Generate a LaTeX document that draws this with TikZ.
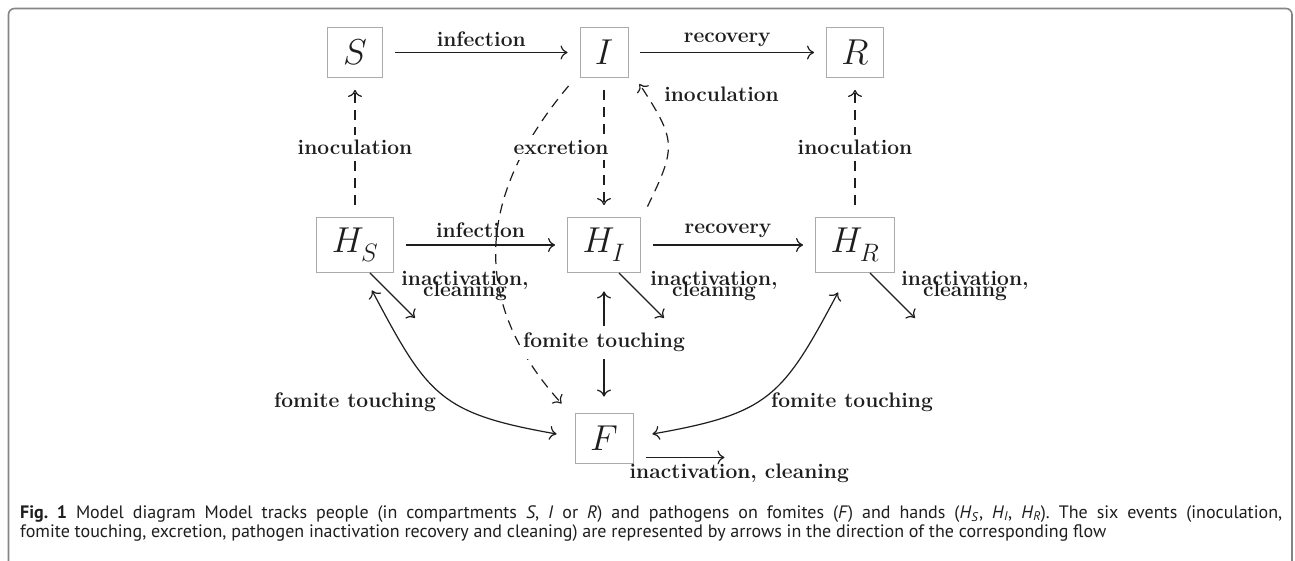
\documentclass[tikz,border=0pt]{standalone}
\usepackage{fontspec}
\newfontfamily\capfont{PT Sans}
\DeclareFontShape{OML}{cmm}{m}{it}{<-8>cmmi7<8->cmmi12}{}
\usetikzlibrary{arrows.meta,calc}
\definecolor{ink}{HTML}{1E1E1E}
\definecolor{boxgray}{HTML}{ABABAB}
\definecolor{framegray}{HTML}{858585}
\frenchspacing
\begin{document}
\begin{tikzpicture}[x=1pt,y=1pt,
  >={Computer Modern Rightarrow[length=7pt,width=14pt]},
  box/.style={draw=boxgray,line width=0.9pt,inner sep=0pt,minimum height=50pt,text=ink,font=\fontsize{36}{40}\selectfont},
  hbox/.style={box,minimum height=55pt},
  flow/.style={->,draw=ink,line width=1.2pt,shorten >=12pt,shorten <=12pt},
  dflow/.style={flow,dash pattern=on 10pt off 7pt},
  free/.style={flow,shorten >=0pt,shorten <=0pt},
  lab/.style={text=ink,inner sep=3pt,font=\fontsize{21}{24}\bfseries\selectfont},
  clean/.style={lab,align=center,inner sep=0pt},
  capt/.style={anchor=base west,inner sep=0pt,text=ink,font=\capfont\fontsize{18}{22}\selectfont},
  ]
\useasboundingbox (0,0) rectangle (1295,560);
\fill[white] (0,0) rectangle (1295,560);
\draw[framegray,line width=1.6pt,rounded corners=6pt] (8.5,-5) -- (8.5,551.5) -- (1292,551.5) -- (1292,-5);

% compartments
\node[box,minimum width=55pt] (S) at (355,507.5) {$S$};
\node[box,minimum width=48pt] (I) at (604,507.5) {$I$};
\node[box,minimum width=57pt] (R) at (855,507.5) {$R$};
\node[hbox,minimum width=77pt] (HS) at (355,315) {$H_S$};
\node[hbox,minimum width=73pt] (HI) at (604,315) {$H_I$};
\node[hbox,minimum width=79pt] (HR) at (855,315) {$H_R$};
\node[box,minimum width=58pt] (F) at (604,122) {$F$};

% excretion to fomites (curved)
\draw[dflow,shorten <=0pt,shorten >=0pt] ($(I.south west)+(-11,-8)$) to[out=230,in=132,looseness=1.13] ($(F.north west)+(-13,9)$);

% labels without fill
\node[clean] (ihs) at ($(HS.south)+(110,-13.5)$) {inactivation,\\[-13pt]cleaning};
\node[clean] (ihi) at ($(HI.south)+(110,-13.5)$) {inactivation,\\[-13pt]cleaning};
\node[clean] (ihr) at ($(HR.south)+(110,-13.5)$) {inactivation,\\[-13pt]cleaning};

% horizontal flows
\draw[flow] (S) -- node[lab,above=2pt] (l1) {infection} (I);
\draw[flow] (I) -- node[lab,above=2pt] (l2) {recovery} (R);
\draw[flow] (HS) -- node[lab,above=4pt] (l3) {infection} (HI);
\draw[flow] (HI) -- node[lab,above=4pt] (l4) {recovery} (HR);

% inoculation / excretion (dashed)
\draw[dflow] (HS) -- node[lab,fill=white,inner ysep=5pt] (l5) {inoculation} (S);
\draw[dflow] (HR) -- node[lab,fill=white,inner ysep=5pt] (l6) {inoculation} (R);
\draw[dflow] (I) -- node[lab,fill=white,inner ysep=5pt,xshift=-43pt] (l7) {excretion} (HI);
\draw[dflow,shorten <=0pt,shorten >=0pt] ($(HI.north east)+(6.5,10.5)$) to[out=64,in=-57,looseness=1.4]
  node[lab,pos=0.95,anchor=west,xshift=16pt,yshift=-2pt] (l8) {inoculation} ($(I.south east)+(11,-6)$);

% fomite touching
\draw[flow,<->,shorten <=18.5pt,shorten >=16pt] (HI) -- node[lab,fill=white,inner ysep=7pt] (l9) {fomite touching} (F);
\draw[free,<->] ($(HS.south)+(17,-17.5)$) to[out=-62,in=170,looseness=1.3] ($(F.west)+(-18,4)$);
\draw[free,<->] ($(F.east)+(19,4)$) to[out=10,in=-118,looseness=1.3] ($(HR.south)+(-17,-19.5)$);
\node[lab] (l10) at (355,158) {fomite touching};
\node[lab] (l11) at (852,158) {fomite touching};

% inactivation, cleaning
\draw[free] ($(HS.south)+(15,0)$) -- ++(45,-45) coordinate (xs);
\draw[free] ($(HI.south)+(15,0)$) -- ++(45,-45) coordinate (xi);
\draw[free] ($(HR.south)+(15,0)$) -- ++(45,-45) coordinate (xr);
\draw[free] ($(F.south east)+(13,6)$) -- ++(78,0) coordinate (xf);
\node[lab,anchor=west,inner sep=0pt] (l12) at ($(F.south east)+(-4,-10)$) {inactivation, cleaning};

% caption
\node[capt] (cap1) at (20,42) {\makebox[1262pt][s]{\textbf{Fig.~1} Model diagram Model tracks people (in compartments \textit{S}, \textit{I} or \textit{R}) and pathogens on fomites (\textit{F}) and hands (\textit{H}\textsubscript{\textit{S}}, \textit{H}\textsubscript{\textit{I}}, \textit{H}\textsubscript{\textit{R}}). The six events (inoculation,}};
\node[capt] (cap2) at (20,23) {fomite touching, excretion, pathogen inactivation recovery and cleaning) are represented by arrows in the direction of the corresponding flow};
\end{tikzpicture}
\end{document}
